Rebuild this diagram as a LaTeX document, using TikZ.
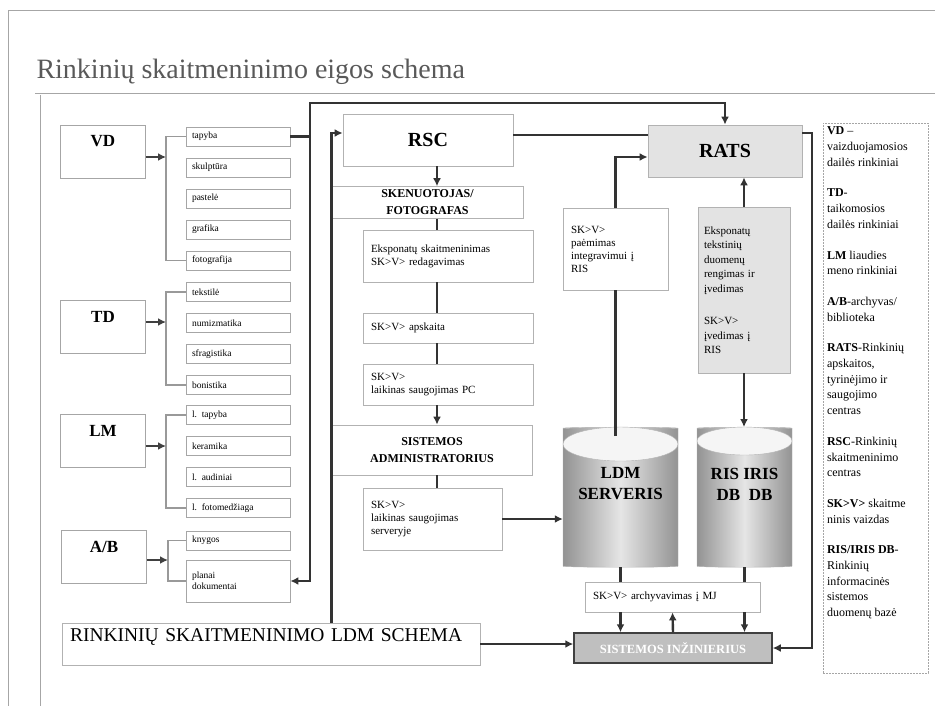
\documentclass[tikz,border=0pt]{standalone}
\usepackage{fontspec}
\setmainfont{Liberation Serif}
\usetikzlibrary{arrows.meta, positioning, shapes.geometric}
\newcommand{\skv}{SK>V>}

\begin{document}
\begin{tikzpicture}[x=1pt, y=-1pt, node distance=31pt, on grid,
        >={Latex[length=8pt,width=8pt]},
        src/.style={draw=gray!70, line width=0.8pt, font=\fontsize{17}{20}\selectfont\bfseries,
            minimum width=85pt, text height=16pt, text depth=25pt, inner ysep=6pt},
        item/.style={draw=gray!70, line width=0.8pt, font=\fontsize{9.5}{11}\selectfont,
            text width=92pt, inner xsep=6pt, minimum height=19pt, align=left},
        task/.style={draw=gray!60, line width=0.8pt, fill=white, font=\fontsize{11}{13}\selectfont,
            align=left, inner xsep=8pt},
        role/.style={draw=gray!60, line width=0.8pt, fill=white,
            font=\fontsize{12}{17}\selectfont\bfseries, align=center},
        head/.style={draw=gray!60, line width=0.8pt, font=\fontsize{20}{24}\selectfont\bfseries,
            minimum height=52pt},
        db/.style={cylinder, shape border rotate=90, aspect=0.3, draw=gray!60,
            left color=gray!85, right color=gray!85, middle color=gray!20, minimum height=140pt},
        dbtext/.style={font=\fontsize{17}{21}\selectfont\bfseries, align=center},
        flow/.style={draw=black!80, line width=2.4pt},
        feed/.style={draw=black!75, line width=1.8pt, ->},
        brk/.style={draw=gray!80, line width=1.2pt}]
    \useasboundingbox (0,0) rectangle (943,706);

    % frame and title
    \draw[gray!70, line width=0.8pt] (8,706) -- (8,10) -- (935,10);
    \draw[gray!70, line width=0.8pt] (35,93) -- (935,93);
    \draw[gray!70, line width=0.8pt] (40,95) -- (40,706);
    \node[font=\fontsize{28}{32}\selectfont, text=black!65, anchor=base west] (title) at (33,79)
        {Rinkinių skaitmeninimo eigos schema};

    % rinkiniai
    \node[src] (vd) at (103,151.5) {VD};
    \node[src] (td) at (103,327)   {TD};
    \node[src] (lm) at (103,441)   {LM};
    \node[src] (ab) at (104,556.5) {A/B};

    \node[item] (vd1) at (238,136.5) {tapyba};
    \node[item] (vd2) [below of=vd1] {skulptūra};
    \node[item] (vd3) [below of=vd2] {pastelė};
    \node[item] (vd4) [below of=vd3] {grafika};
    \node[item] (vd5) [below of=vd4] {fotografija};

    \node[item] (td1) at (238,292) {tekstilė};
    \node[item] (td2) [below of=td1] {numizmatika};
    \node[item] (td3) [below of=td2] {sfragistika};
    \node[item] (td4) [below of=td3] {bonistika};

    \node[item] (lm1) at (238,415) {l. tapyba};
    \node[item] (lm2) [below of=lm1] {keramika};
    \node[item] (lm3) [below of=lm2] {l. audiniai};
    \node[item] (lm4) [below of=lm3] {l. fotomedžiaga};

    \node[item] (ab1) at (238,540.5) {knygos};
    \node[item, minimum height=42pt] (ab2) at (238,581) {planai\\dokumentai};

    \coordinate (vdj) at (166,157);
    \coordinate (tdj) at (166,322);
    \coordinate (lmj) at (166,446);
    \coordinate (abj) at (168,560);
    \draw[brk] (vd1.west) -| (vdj) |- (vd5.west);
    \draw[brk] (td1.west) -| (tdj) |- (td4.west);
    \draw[brk] (lm1.west) -| (lmj) |- (lm4.west);
    \draw[brk] (ab1.west) -| (abj) |- (ab2.west);
    \draw[feed] (vd.east |- vdj) -- (vdj);
    \draw[feed] (td.east |- tdj) -- (tdj);
    \draw[feed] (lm.east |- lmj) -- (lmj);
    \draw[feed] (ab.east |- abj) -- (abj);

    % RSC
    \node[head, minimum width=170pt] (rsc) at (428,140) {RSC};
    \node[role, minimum width=191pt, minimum height=31pt] (skn) at (427.5,202.5) {SKENUOTOJAS/\\FOTOGRAFAS};
    \node[task, text width=154pt, minimum height=52pt] (eks) at (448,256)
        {Eksponatų skaitmeninimas\\\skv{} redagavimas};
    \node[task, text width=154pt, minimum height=30pt] (aps) at (448,328) {\skv{} apskaita};
    \node[task, text width=154pt, minimum height=41pt] (pc) at (448,384.5)
        {\skv{}\\laikinas saugojimas PC};
    \node[role, minimum width=200pt, minimum height=50pt] (sa) at (432,450) {SISTEMOS\\ADMINISTRATORIUS};
    \node[task, text width=123pt, minimum height=62pt] (srv) at (432.5,519)
        {\skv{}\\laikinas saugojimas\\serveryje};

    % RATS
    \node[head, minimum width=154pt, fill=gray!22] (rats) at (725,151) {RATS};
    \node[task, text width=89pt, minimum height=82pt] (pae) at (615.5,249)
        {\skv{}\\paėmimas\\integravimui į\\RIS};
    \node[task, fill=gray!22, text width=80pt, inner xsep=6pt, minimum height=166pt,
        font=\fontsize{11}{14.5}\selectfont] (teks) at (744,290)
        {Eksponatų\\tekstinių\\duomenų\\rengimas ir\\įvedimas\\[18pt]\skv{}\\įvedimas į\\RIS};

    % serveriai
    \node[db, minimum width=115pt] (ldm) at (620.5,498) {};
    \node[db, minimum width=95pt]  (ris) at (744.5,498) {};
    \draw[draw=gray!60, fill=gray!8] ([yshift=-17pt]ldm.north) ellipse (57.5 and 17);
    \draw[draw=gray!60, fill=gray!8] ([yshift=-14pt]ris.north) ellipse (47.5 and 14);
    \node[dbtext] (ldmt) at ([yshift=14pt]ldm.center) {LDM\\SERVERIS};
    \node[dbtext] (rist) at ([yshift=14pt]ris.center) {RIS IRIS\\DB\enspace DB};

    \node[task, text width=159pt, minimum height=30pt] (arch) at (672.5,597) {\skv{} archyvavimas į MJ};
    \node[draw=black!75, line width=1.5pt, fill=gray!50, text=white,
        font=\fontsize{12.5}{14}\selectfont\bfseries, minimum width=198pt, minimum height=30pt]
        (si) at (673,648) {SISTEMOS INŽINIERIUS};
    \node[draw=gray!60, line width=0.8pt, font=\fontsize{19.5}{21}\selectfont, text width=402pt,
        inner xsep=8pt, align=left, text height=14pt, text depth=20pt, inner ysep=4pt]
        (schema) at (271,644) {RINKINIŲ SKAITMENINIMO LDM SCHEMA};

    % legenda
    \node[draw=gray!70, dash pattern=on 2pt off 1pt, inner sep=4pt,
        font=\fontsize{12}{15.7}\selectfont] (legend) at (875.5,398)
        {\parbox[c][542pt][t]{97pt}{\raggedright
            \textbf{VD} --\\vaizduojamosios\\dailės rinkiniai\\[15pt]
            \textbf{TD}-\\taikomosios\\dailės rinkiniai\\[15pt]
            \textbf{LM} liaudies\\meno rinkiniai\\[15pt]
            \textbf{A/B}-archyvas/\\biblioteka\\[15pt]
            \textbf{RATS}-Rinkinių\\apskaitos,\\tyrinėjimo ir\\saugojimo\\centras\\[15pt]
            \textbf{RSC}-Rinkinių\\skaitmeninimo\\centras\\[15pt]
            \textbf{\skv{}} skaitme\\ninis vaizdas\\[15pt]
            \textbf{RIS/IRIS DB}-\\Rinkinių\\informacinės\\sistemos\\duomenų bazė}};

    % srautai
    \coordinate (top) at (310,103);
    \coordinate (spine) at (437,0);
    \coordinate (rgt) at (812,0);
    \draw[flow] (vd1.east) -- (vd1.east -| top);
    \draw[flow, <->] (ab2.east) -| (top) -| (rats.north);
    \draw[flow, ->] (schema.north -| skn.west) |- ([yshift=7pt]rsc.west);
    \draw[flow, line width=1.6pt] ([yshift=5pt]rsc.east) -- ([yshift=5pt]rsc.east -| rats.west);

    \draw[flow, ->] (rsc.south -| spine) -- (skn.north -| spine);
    \draw[flow] (skn.south -| spine) -- (eks.north -| spine);
    \draw[flow] (eks.south -| spine) -- (aps.north -| spine);
    \draw[flow] (aps.south -| spine) -- (pc.north -| spine);
    \draw[flow, ->] (pc.south -| spine) -- (sa.north -| spine);
    \draw[flow] (sa.south -| spine) -- (srv.north -| spine);
    \draw[flow, ->] (srv.east) -- (srv.east -| ldm.west);

    \draw[flow] ([yshift=-9pt]pae.south |- ldm.north) -- (pae.south);
    \draw[flow, ->] (pae.north) |- ([yshift=-6pt]rats.west);
    \draw[flow, ->] (teks.north) -- (teks.north |- rats.south);
    \draw[flow, ->] (teks.south) -- (teks.south |- ris.north);

    \draw[flow] (ldm.south) -- (ldm.south |- arch.north);
    \draw[flow] (ris.south) -- (ris.south |- arch.north);
    \draw[flow, ->] (arch.south -| ldm.south) -- (si.north -| ldm.south);
    \draw[flow, <-] (arch.south) -- (si.north);
    \draw[flow, ->] (arch.south -| ris.south) -- (si.north -| ris.south);

    \draw[flow, ->] ([yshift=18pt]rats.east) -- ([yshift=18pt]rats.east -| rgt) |- (si.east);
    \draw[flow, ->] (schema.east) -- (schema.east -| si.west);
\end{tikzpicture}
\end{document}
